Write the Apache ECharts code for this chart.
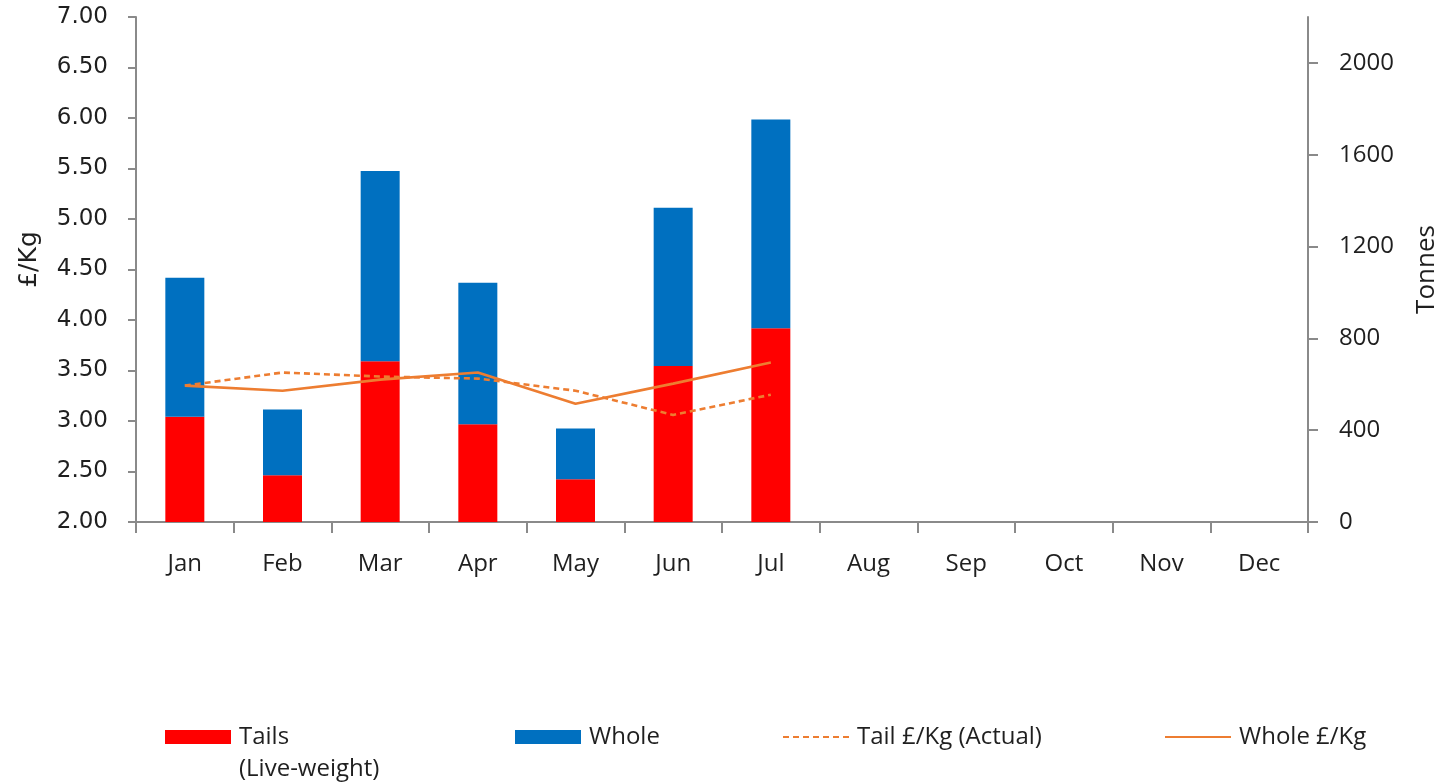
<!DOCTYPE html>
<html>
<head>
<meta charset="utf-8">
<title>Tails and Whole</title>
<script src="https://cdn.jsdelivr.net/npm/echarts@6/dist/echarts.min.js"></script>
<style>
  html, body { margin: 0; padding: 0; background: #fff; }
  #chart { width: 1448px; height: 784px; }
</style>
</head>
<body>
<div id="chart"></div>
<script>
// months on the x axis
var months = ['Jan', 'Feb', 'Mar', 'Apr', 'May', 'Jun', 'Jul', 'Aug', 'Sep', 'Oct', 'Nov', 'Dec'];

// tonnes (right axis), stacked
var tailsTonnes = [458, 204, 700, 426, 186, 680, 844];
var wholeTonnes = [606, 286, 829, 616, 221, 689, 910];

// price (left axis)
var tailPrice = [3.35, 3.48, 3.44, 3.42, 3.30, 3.06, 3.26];
var wholePrice = [3.35, 3.30, 3.41, 3.48, 3.17, 3.37, 3.58];

var axisGrey = '#8a8a8a';
var textCol = '#1f1f1f';
var orange = '#ED7D31';
var calibriLike = '"Open Sans", Lato, sans-serif';

var myChart = echarts.init(document.getElementById('chart'));

var legendBase = {
    orient: 'horizontal',
    padding: 0,
    itemWidth: 66,
    itemHeight: 14,
    itemGap: 0,
    textStyle: { fontFamily: calibriLike, fontSize: 24, color: textCol, lineHeight: 32, padding: [0, 0, 0, 3] }
};

var option = {
    animation: false,
    backgroundColor: '#fff',
    grid: { left: 136, right: 139, top: 17, bottom: 262 },
    legend: [
        Object.assign({}, legendBase, {
            data: ['Tails (Live-weight)'], left: 165, top: 689, icon: 'rect',
            formatter: function () { return ' \nTails\n(Live-weight)'; }
        }),
        Object.assign({}, legendBase, { data: ['Whole'], left: 515, top: 721, icon: 'rect' }),
        // hide the dot on line legend items, keep the line
        Object.assign({}, legendBase, { data: ['Tail £/Kg (Actual)'], left: 782, top: 721, itemStyle: { opacity: 0 } }),
        Object.assign({}, legendBase, { data: ['Whole £/Kg'], left: 1164, top: 721, itemStyle: { opacity: 0 } })
    ],
    xAxis: {
        type: 'category',
        data: months,
        axisLine: { lineStyle: { color: axisGrey, width: 2 } },
        axisTick: { show: true, length: 11, lineStyle: { color: axisGrey, width: 2 } },
        axisLabel: { margin: 30, fontFamily: calibriLike, fontSize: 24, color: textCol }
    },
    yAxis: [
        {
            type: 'value',
            min: 2,
            max: 7,
            interval: 0.5,
            name: '£/Kg',
            nameLocation: 'middle',
            nameGap: 94,
            nameTextStyle: { fontFamily: 'DejaVu Sans', fontSize: 25, color: textCol, padding: [0, 0, 0, 20] },
            axisLine: { show: true, lineStyle: { color: axisGrey, width: 2 } },
            axisTick: { show: true, length: 8, lineStyle: { color: axisGrey, width: 2 } },
            splitLine: { show: false },
            axisLabel: {
                margin: 28, fontFamily: 'DejaVu Sans', fontSize: 23, color: textCol,
                formatter: function (v) { return v.toFixed(2); }
            }
        },
        {
            type: 'value',
            position: 'right',
            min: 0,
            max: 2200,
            interval: 400,
            name: 'Tonnes',
            nameLocation: 'middle',
            nameRotate: 90,
            nameGap: 106,
            nameTextStyle: { fontFamily: calibriLike, fontSize: 26, color: textCol },
            axisLine: { show: true, lineStyle: { color: axisGrey, width: 2 } },
            axisTick: { show: true, length: 10, lineStyle: { color: axisGrey, width: 2 } },
            splitLine: { show: false },
            axisLabel: {
                margin: 31, fontFamily: calibriLike, fontSize: 24, color: textCol,
                showMaxLabel: false,
                formatter: function (v) { return String(v); }
            }
        }
    ],
    series: [
        {
            name: 'Tails (Live-weight)',
            type: 'bar',
            stack: 'tonnes',
            yAxisIndex: 1,
            barWidth: 39,
            itemStyle: { color: '#FF0000' },
            data: tailsTonnes
        },
        {
            name: 'Whole',
            type: 'bar',
            stack: 'tonnes',
            yAxisIndex: 1,
            barWidth: 39,
            itemStyle: { color: '#0070C0' },
            data: wholeTonnes
        },
        {
            name: 'Tail £/Kg (Actual)',
            type: 'line',
            yAxisIndex: 0,
            symbol: 'none',
            itemStyle: { color: orange },
            lineStyle: { color: orange, width: 2.6, type: [6, 4] },
            data: tailPrice
        },
        {
            name: 'Whole £/Kg',
            type: 'line',
            yAxisIndex: 0,
            symbol: 'none',
            itemStyle: { color: orange },
            lineStyle: { color: orange, width: 2.6 },
            data: wholePrice
        }
    ]
};

myChart.setOption(option);
</script>
</body>
</html>
